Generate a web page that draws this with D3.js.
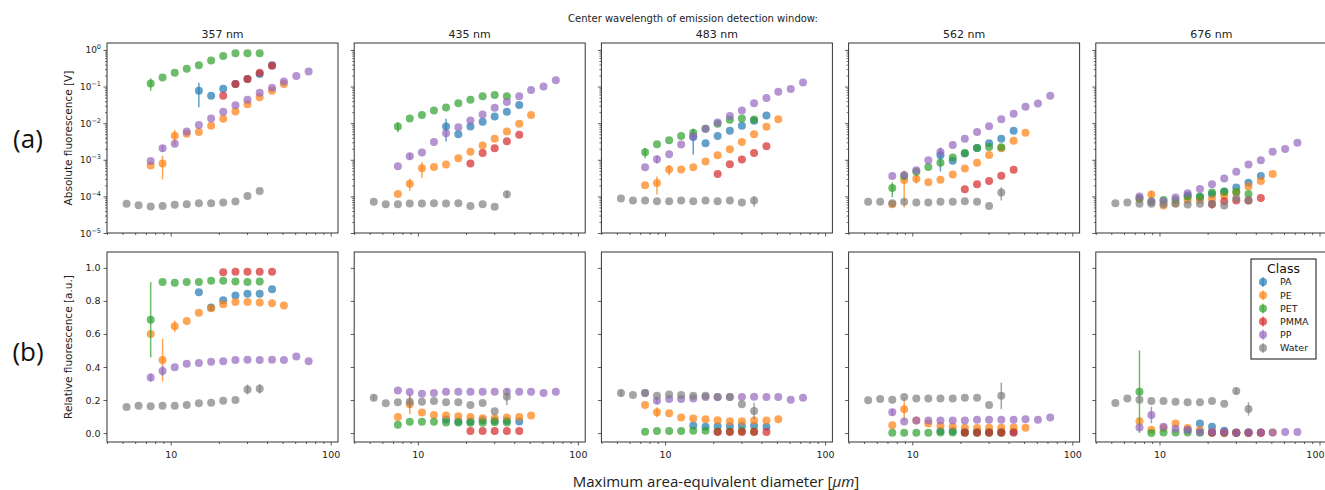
<!DOCTYPE html>
<html>
<head>
<meta charset="utf-8">
<script src="https://cdn.jsdelivr.net/npm/d3@7"></script>
<style>
  html, body { margin: 0; padding: 0; background: #fff; }
  svg { display: block; }
</style>
</head>
<body>
<svg id="chart" width="1325" height="490"></svg>
<script>
// Size bins (maximum area-equivalent diameter, µm)
const binCenters = [5.3, 6.3, 7.5, 8.9, 10.6, 12.6, 15.0, 17.9, 21.3, 25.4, 30.2, 36.0, 43.0, 51.0, 61.0, 72.8];

// Emission detection windows
const wavelengths = ["357 nm", "435 nm", "483 nm", "562 nm", "676 nm"];

const classes = ["PA", "PE", "PET", "PMMA", "PP", "Water"];
const classColors = ["#1f77b4", "#ff7f0e", "#2ca02c", "#d62728", "#9467bd", "#7f7f7f"];

// first size bin that each class occupies
const startBin = [6, 2, 2, 8, 2, 0];

// Absolute fluorescence [V], one row per detection window
const paAbs = [
  [0.0773, 0.0565, 0.0875, 0.117, 0.16, 0.219, 0.384],
  [8.15e-3, 4.95e-3, 8.15e-3, 0.0109, 0.0152, 0.0204, 0.0316],
  [4.19e-3, 2.82e-3, 4.46e-3, 6.2e-3, 8.5e-3, 0.0116, 0.0162],
  [1.33e-3, 9.35e-4, 1.48e-3, 2.1e-3, 2.82e-3, 3.77e-3, 6.2e-3],
  [1.05e-4, 9.5e-5, 1.15e-4, 1.35e-4, 1.75e-4, 2.35e-4, 3.6e-4]
];
const peAbs = [
  [7.0e-4, 7.9e-4, 4.55e-3, 5.15e-3, 5.73e-3, 8.5e-3, 0.0132, 0.0208, 0.0329, 0.0509, 0.0773, 0.117],
  [1.17e-4, 2.22e-4, 5.9e-4, 6.4e-4, 7.4e-4, 1.1e-3, 1.67e-3, 2.44e-3, 3.77e-3, 5.97e-3, 9.6e-3, 0.0166],
  [2.0e-4, 2.32e-4, 5.45e-4, 5.45e-4, 6.3e-4, 9.0e-4, 1.33e-3, 1.94e-3, 3.06e-3, 4.95e-3, 7.98e-3, 0.0129],
  [6.1e-5, 2.8e-4, 3.04e-4, 2.42e-4, 2.86e-4, 3.98e-4, 5.8e-4, 8.26e-4, 1.36e-3, 2.06e-3, 3.33e-3, 5.5e-3],
  [8.3e-5, 1.12e-4, 5.6e-5, 6.5e-5, 8.0e-5, 8.0e-5, 8.5e-5, 1.05e-4, 1.27e-4, 1.85e-4, 2.63e-4, 4.07e-4]
];
const petAbs = [
  [0.122, 0.178, 0.238, 0.305, 0.384, 0.514, 0.687, 0.81, 0.81, 0.81],
  [8.15e-3, 0.0134, 0.0166, 0.0221, 0.0267, 0.035, 0.044, 0.0542, 0.0589, 0.0542],
  [1.61e-3, 2.65e-3, 3.4e-3, 4.46e-3, 5.5e-3, 7.05e-3, 9.6e-3, 0.0124, 0.0134, 0.0126],
  [1.7e-4, 3.59e-4, 4.7e-4, 6.4e-4, 8.26e-4, 1.15e-3, 1.54e-3, 2.1e-3, 2.24e-3, 2.2e-3],
  [8.9e-5, 7.3e-5, 8.0e-5, 8.0e-5, 9.9e-5, 9.9e-5, 1.27e-4, 1.33e-4, 1.33e-4, 1.16e-4]
];
const pmmaAbs = [
  [0.0565, 0.117, 0.16, 0.238, 0.368],
  [7.9e-4, 1.54e-3, 2.06e-3, 3.2e-3, 4.84e-3],
  [4.06e-4, 7.6e-4, 1.02e-3, 1.54e-3, 2.34e-3],
  [1.56e-4, 2.13e-4, 2.63e-4, 3.66e-4, 5.33e-4],
  [6.1e-5, 7.4e-5, 7.7e-5, 7.7e-5, 9.1e-5]
];
const ppAbs = [
  [9.2e-4, 2.06e-3, 2.76e-3, 5.97e-3, 8.9e-3, 0.0134, 0.0204, 0.0309, 0.044, 0.068, 0.093, 0.138, 0.193, 0.258],
  [6.7e-4, 1.25e-3, 1.57e-3, 3.06e-3, 5.27e-3, 7.8e-3, 0.0119, 0.0173, 0.0262, 0.038, 0.0542, 0.0805, 0.101, 0.150],
  [6.3e-4, 1.04e-3, 1.42e-3, 2.6e-3, 4.37e-3, 7.05e-3, 0.0105, 0.0156, 0.0221, 0.035, 0.0489, 0.0726, 0.0857, 0.130],
  [3.59e-4, 3.82e-4, 5.2e-4, 9.75e-4, 1.64e-3, 2.54e-3, 3.77e-3, 5.73e-3, 8.3e-3, 0.0129, 0.018, 0.0279, 0.0343, 0.0565],
  [9.9e-5, 7.1e-5, 7.4e-5, 9.3e-5, 1.22e-4, 1.6e-4, 2.13e-4, 3.1e-4, 4.7e-4, 7.4e-4, 9.75e-4, 1.67e-3, 1.98e-3, 2.94e-3]
];
const waterAbs = [
  [6.25e-5, 5.75e-5, 5.28e-5, 5.5e-5, 5.87e-5, 6.1e-5, 6.5e-5, 6.5e-5, 6.8e-5, 7.2e-5, 1.03e-4, 1.41e-4],
  [7.1e-5, 6.1e-5, 6.1e-5, 6.4e-5, 6.4e-5, 6.5e-5, 6.4e-5, 6.5e-5, 5.5e-5, 6.1e-5, 5.2e-5, 1.14e-4],
  [8.7e-5, 7.7e-5, 7.7e-5, 7.4e-5, 7.4e-5, 7.7e-5, 7.4e-5, 7.7e-5, 7.4e-5, 7.7e-5, 6.8e-5, 7.7e-5],
  [7.1e-5, 7.1e-5, 6.5e-5, 7.1e-5, 6.8e-5, 6.8e-5, 7.1e-5, 7.1e-5, 7.4e-5, 7.1e-5, 5.5e-5, 1.27e-4],
  [6.5e-5, 6.8e-5, 6.25e-5, 6.25e-5, 6.1e-5, 6.25e-5, 6.0e-5, 6.25e-5, 6.25e-5, 5.6e-5, 8.9e-5, 7.7e-5]
];

// Relative fluorescence [a.u.], one row per detection window
const paRel = [
  [0.852, 0.76, 0.804, 0.832, 0.844, 0.844, 0.87],
  [0.082, 0.07, 0.07, 0.078, 0.074, 0.074, 0.07],
  [0.046, 0.038, 0.042, 0.042, 0.044, 0.044, 0.038],
  [0.012, 0.012, 0.008, 0.008, 0.008, 0.008, 0.008],
  [0.02, 0.058, 0.038, 0.014, 0.004, 0.004, 0.004]
];
const peRel = [
  [0.60, 0.442, 0.646, 0.678, 0.728, 0.756, 0.78, 0.794, 0.794, 0.79, 0.786, 0.772],
  [0.098, 0.174, 0.124, 0.11, 0.106, 0.102, 0.098, 0.09, 0.09, 0.094, 0.098, 0.106],
  [0.17, 0.126, 0.12, 0.094, 0.088, 0.084, 0.078, 0.072, 0.072, 0.076, 0.076, 0.084],
  [0.048, 0.144, 0.076, 0.058, 0.044, 0.038, 0.032, 0.03, 0.032, 0.032, 0.034, 0.032],
  [0.072, 0.02, 0.03, 0.058, 0.03, 0.018, 0.006, 0.002, 0.002, 0.002, 0.002, 0.004]
];
const petRel = [
  [0.686, 0.914, 0.91, 0.914, 0.914, 0.922, 0.922, 0.918, 0.914, 0.918],
  [0.05, 0.068, 0.068, 0.068, 0.064, 0.064, 0.062, 0.062, 0.066, 0.064],
  [0.008, 0.012, 0.012, 0.012, 0.014, 0.014, 0.01, 0.01, 0.012, 0.01],
  [0.002, 0.002, 0.002, 0.002, 0.004, 0.004, 0.002, 0.002, 0.002, 0.002],
  [0.25, 0.0, 0.004, 0.004, 0.004, 0.002, 0.002, 0.002, 0.002, 0.002]
];
const pmmaRel = [
  [0.974, 0.976, 0.976, 0.976, 0.976],
  [0.012, 0.012, 0.012, 0.012, 0.012],
  [0.006, 0.006, 0.006, 0.006, 0.006],
  [0.002, 0.002, 0.002, 0.002, 0.002],
  [0.002, 0.002, 0.002, 0.002, 0.002]
];
const ppRel = [
  [0.336, 0.376, 0.398, 0.42, 0.424, 0.432, 0.434, 0.442, 0.444, 0.442, 0.444, 0.442, 0.464, 0.434],
  [0.258, 0.248, 0.238, 0.242, 0.25, 0.25, 0.25, 0.25, 0.25, 0.25, 0.25, 0.25, 0.242, 0.25],
  [0.242, 0.196, 0.206, 0.206, 0.21, 0.218, 0.218, 0.218, 0.218, 0.22, 0.218, 0.218, 0.202, 0.214],
  [0.126, 0.07, 0.076, 0.076, 0.076, 0.076, 0.076, 0.08, 0.08, 0.08, 0.08, 0.084, 0.08, 0.094],
  [0.034, 0.11, 0.038, 0.026, 0.018, 0.006, 0.008, 0.006, 0.002, 0.004, 0.004, 0.004, 0.006, 0.006]
];
const waterRel = [
  [0.158, 0.166, 0.162, 0.166, 0.166, 0.17, 0.18, 0.184, 0.196, 0.2, 0.264, 0.268],
  [0.214, 0.18, 0.186, 0.19, 0.19, 0.194, 0.186, 0.186, 0.17, 0.182, 0.132, 0.22],
  [0.242, 0.23, 0.242, 0.226, 0.234, 0.23, 0.226, 0.226, 0.218, 0.218, 0.174, 0.134],
  [0.198, 0.206, 0.202, 0.218, 0.21, 0.21, 0.21, 0.21, 0.214, 0.214, 0.17, 0.226],
  [0.182, 0.21, 0.202, 0.194, 0.194, 0.19, 0.186, 0.186, 0.194, 0.178, 0.254, 0.146]
];

// Standard deviations large enough to show: [row, window, class, bin, sd]
const errorBars = [
  [0, 0, "PET", 2, 0.045], [0, 0, "PA", 6, 0.05], [0, 0, "PE", 3, 5e-4], [0, 0, "PE", 4, 2e-3], [0, 0, "PP", 3, 4e-4],
  [0, 1, "PET", 2, 2.5e-3], [0, 1, "PA", 6, 5e-3], [0, 1, "PE", 3, 8e-5], [0, 1, "PE", 4, 2.7e-4], [0, 1, "PP", 3, 2.5e-4], [0, 1, "Water", 11, 2.5e-5],
  [0, 2, "PET", 2, 5e-4], [0, 2, "PA", 6, 2.8e-3], [0, 2, "PE", 3, 1.2e-4], [0, 2, "PE", 4, 1.7e-4], [0, 2, "PP", 3, 2.5e-4], [0, 2, "PET", 6, 1e-3], [0, 2, "Water", 11, 2.5e-5],
  [0, 3, "PE", 3, 2.3e-4], [0, 3, "PET", 2, 7.5e-5], [0, 3, "PA", 6, 8.5e-4], [0, 3, "Water", 11, 5e-5], [0, 3, "PE", 4, 8e-5],
  [0, 4, "PE", 3, 3e-5], [0, 4, "PMMA", 8, 1.5e-5], [0, 4, "PP", 2, 1.5e-5],
  [1, 0, "PET", 2, 0.228], [1, 0, "PE", 3, 0.13], [1, 0, "PE", 4, 0.035], [1, 0, "PP", 2, 0.025], [1, 0, "PP", 3, 0.03], [1, 0, "Water", 10, 0.03], [1, 0, "Water", 11, 0.03], [1, 0, "PA", 7, 0.02],
  [1, 1, "Water", 0, 0.015], [1, 1, "PE", 3, 0.06], [1, 1, "Water", 3, 0.04], [1, 1, "Water", 11, 0.05],
  [1, 2, "Water", 0, 0.02], [1, 2, "PE", 3, 0.03], [1, 2, "Water", 11, 0.05], [1, 2, "PP", 3, 0.02],
  [1, 3, "PP", 2, 0.02], [1, 3, "PE", 3, 0.07], [1, 3, "Water", 11, 0.08],
  [1, 4, "PET", 2, 0.25], [1, 4, "PP", 3, 0.05], [1, 4, "Water", 10, 0.02], [1, 4, "Water", 11, 0.04]
];

const absByClass = [paAbs, peAbs, petAbs, pmmaAbs, ppAbs, waterAbs];
const relByClass = [paRel, peRel, petRel, pmmaRel, ppRel, waterRel];

// ---- layout ----
const panelLeft0 = 107, panelStep = 247.2, panelW = 231, panelH = 190;
const rowTops = [43, 252];
const frameColor = "#333";
const tickFont = "DejaVu Sans, sans-serif";
const svgWidth = 1325;

const svg = d3.select("#chart");

const x = d3.scaleLog().domain([4.0, 111.1]).range([0, panelW]);
const yAbs = d3.scaleLog().domain([1e-5, 1.55]).range([panelH, 0]);
const yRel = d3.scaleLinear().domain([-0.054, 1.096]).range([panelH, 0]);

const xMajor = [10, 100];
const xMinor = [4, 5, 6, 7, 8, 9, 20, 30, 40, 50, 60, 70, 80, 90];
const yAbsMajor = [1e-5, 1e-4, 1e-3, 1e-2, 1e-1, 1];
const yAbsExp = ["\u22125", "\u22124", "\u22123", "\u22122", "\u22121", "0"];
const yRelMajor = [0, 0.2, 0.4, 0.6, 0.8, 1.0];

const yAbsMinor = [];
for (let e = -5; e <= 0; e++) for (let m = 2; m <= 9; m++) {
  const v = m * Math.pow(10, e);
  if (v <= 1.55) yAbsMinor.push(v);
}

function sdFor(row, p, cls, bin) {
  const hit = errorBars.find(d => d[0] === row && d[1] === p && d[2] === cls && d[3] === bin);
  return hit ? hit[4] : 0;
}

for (let row = 0; row < 2; row++) {
  const y = row === 0 ? yAbs : yRel;
  const table = row === 0 ? absByClass : relByClass;
  for (let p = 0; p < 5; p++) {
    const left = panelLeft0 + panelStep * p;
    const g = svg.append("g").attr("transform", `translate(${left},${rowTops[row]})`);

    // x ticks (major + minor), labels on the bottom row only
    const xMinorAxis = d3.axisBottom(x).tickValues(xMinor).tickSize(2).tickFormat("");
    const xMajorAxis = d3.axisBottom(x).tickValues(xMajor).tickSize(3.5)
      .tickFormat(row === 1 ? d3.format("d") : "");
    [xMinorAxis, xMajorAxis].forEach(ax => {
      const a = g.append("g").attr("transform", `translate(0,${panelH})`).call(ax);
      a.select(".domain").remove();
      a.selectAll("line").attr("stroke", frameColor).attr("stroke-width", 0.8);
      a.selectAll("text").attr("font-family", tickFont).attr("font-size", 9.5)
        .attr("fill", "#222").attr("dy", "0.95em");
      // keep a label that would run past the page edge inside it
      a.selectAll(".tick").each(function (d) {
        const tx = left + x(d);
        if (tx + 10 > svgWidth) {
          d3.select(this).select("text").attr("text-anchor", "end").attr("x", svgWidth - 1 - tx);
        }
      });
    });

    // y ticks
    if (row === 0) {
      const ym = g.append("g").call(d3.axisLeft(yAbs).tickValues(yAbsMinor).tickSize(2).tickFormat(""));
      ym.select(".domain").remove();
      ym.selectAll("line").attr("stroke", frameColor).attr("stroke-width", 0.7);
      const yM = g.append("g").call(d3.axisLeft(yAbs).tickValues(yAbsMajor).tickSize(3.5).tickFormat(""));
      yM.select(".domain").remove();
      yM.selectAll("line").attr("stroke", frameColor).attr("stroke-width", 0.8);
      if (p === 0) {
        yAbsMajor.forEach((v, i) => {
          const t = g.append("text")
            .attr("x", -6).attr("y", yAbs(v) + 3.5)
            .attr("text-anchor", "end")
            .attr("font-family", tickFont).attr("font-size", 9).attr("fill", "#222");
          t.append("tspan").text("10");
          t.append("tspan").attr("dy", -4).attr("font-size", 6.5).text(yAbsExp[i]);
        });
      }
    } else {
      const yA = g.append("g").call(d3.axisLeft(yRel).tickValues(yRelMajor).tickSize(3.5)
        .tickFormat(p === 0 ? d3.format(".1f") : ""));
      yA.select(".domain").remove();
      yA.selectAll("line").attr("stroke", frameColor).attr("stroke-width", 0.8);
      yA.selectAll("text").attr("font-family", tickFont).attr("font-size", 9.5).attr("fill", "#222");
    }

    // data
    const clipId = `clip-${row}-${p}`;
    g.append("clipPath").attr("id", clipId)
      .append("rect").attr("width", panelW).attr("height", panelH);
    const plot = g.append("g").attr("clip-path", `url(#${clipId})`);

    classes.forEach((cls, ci) => {
      const vals = table[ci][p];
      const pts = vals.map((v, k) => ({ bin: startBin[ci] + k, v }))
        .map(d => ({ ...d, xv: binCenters[d.bin], sd: sdFor(row, p, cls, d.bin) }));
      const color = classColors[ci];

      plot.selectAll(null).data(pts.filter(d => d.sd > 0)).enter().append("line")
        .attr("x1", d => x(d.xv)).attr("x2", d => x(d.xv))
        .attr("y1", d => y(Math.max(d.v - d.sd, row === 0 ? 1e-6 : -1)))
        .attr("y2", d => y(d.v + d.sd))
        .attr("stroke", color).attr("stroke-opacity", 0.7).attr("stroke-width", 1.5);

      plot.selectAll(null).data(pts).enter().append("circle")
        .attr("cx", d => x(d.xv)).attr("cy", d => y(d.v)).attr("r", 4)
        .attr("fill", color).attr("fill-opacity", 0.7);
    });

    // frame
    g.append("rect").attr("width", panelW).attr("height", panelH)
      .attr("fill", "none").attr("stroke", frameColor).attr("stroke-width", 1);

    if (row === 0) {
      g.append("text").attr("x", panelW / 2).attr("y", -5)
        .attr("text-anchor", "middle").attr("font-family", tickFont)
        .attr("font-size", 11).attr("fill", "#222").text(wavelengths[p]);
    }
  }
}

// legend in the last relative-fluorescence panel
const lg = svg.append("g").attr("transform", "translate(1251,259)");
lg.append("rect").attr("width", 65).attr("height", 100)
  .attr("fill", "#fff").attr("stroke", "#111").attr("stroke-width", 1);
lg.append("text").attr("x", 32.5).attr("y", 14).attr("text-anchor", "middle")
  .attr("font-family", tickFont).attr("font-size", 12.5).attr("fill", "#111").text("Class");
classes.forEach((cls, i) => {
  const cy = 23 + i * 13.2;
  lg.append("line").attr("x1", 12).attr("x2", 12).attr("y1", cy - 5).attr("y2", cy + 5)
    .attr("stroke", classColors[i]).attr("stroke-opacity", 0.7).attr("stroke-width", 1.3);
  lg.append("circle").attr("cx", 12).attr("cy", cy).attr("r", 4)
    .attr("fill", classColors[i]).attr("fill-opacity", 0.7);
  lg.append("text").attr("x", 29).attr("y", cy + 3.3)
    .attr("font-family", tickFont).attr("font-size", 9.5).attr("fill", "#222").text(cls);
});

// figure-level text
svg.append("text").attr("x", 693).attr("y", 22).attr("text-anchor", "middle")
  .attr("font-family", tickFont).attr("font-size", 10).attr("fill", "#222")
  .text("Center wavelength of emission detection window:");

const xl = svg.append("text").attr("x", 716).attr("y", 487).attr("text-anchor", "middle")
  .attr("font-family", "Open Sans, sans-serif").attr("font-size", 15).attr("fill", "#222");
xl.append("tspan").text("Maximum area-equivalent diameter [");
xl.append("tspan").attr("font-style", "italic").text("\u03bcm");
xl.append("tspan").text("]");

svg.append("text").attr("transform", `translate(72,${rowTops[0] + panelH / 2}) rotate(-90)`)
  .attr("text-anchor", "middle").attr("font-family", tickFont).attr("font-size", 10.5)
  .attr("fill", "#222").text("Absolute fluorescence [V]");
svg.append("text").attr("transform", `translate(72,${rowTops[1] + panelH / 2}) rotate(-90)`)
  .attr("text-anchor", "middle").attr("font-family", tickFont).attr("font-size", 10.5)
  .attr("fill", "#222").text("Relative fluorescence [a.u.]");

svg.append("text").attr("x", 28).attr("y", 148).attr("text-anchor", "middle")
  .attr("font-family", "Open Sans, sans-serif").attr("font-size", 26).attr("fill", "#111").text("(a)");
svg.append("text").attr("x", 28).attr("y", 361).attr("text-anchor", "middle")
  .attr("font-family", "Open Sans, sans-serif").attr("font-size", 26).attr("fill", "#111").text("(b)");
</script>
</body>
</html>
